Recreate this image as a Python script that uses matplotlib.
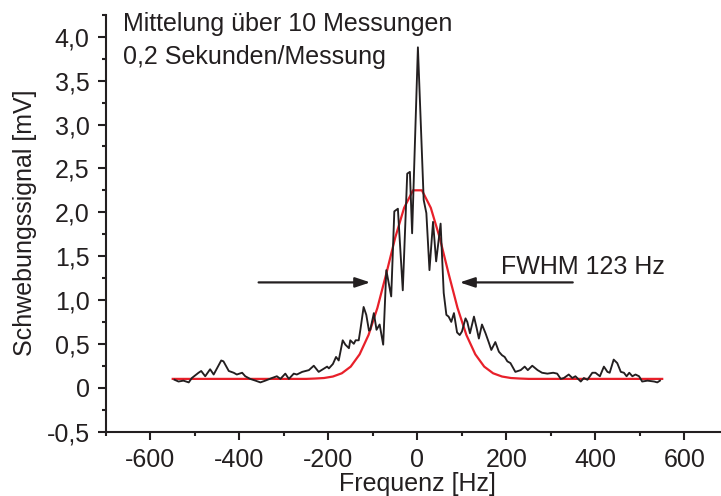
from matplotlib import pyplot as plt
from matplotlib.ticker import MultipleLocator

freq_hz = [
    -546, -537, -526, -514, -507, -492, -486, -477, -466, -458,
    -441, -436, -424, -413, -406, -394, -387, -376, -364, -353,
    -342, -327, -316, -308, -297, -289, -278, -271, -259, -244,
    -233, -222, -203, -199, -190, -183, -177, -168, -162, -154,
    -151, -143, -139, -132, -128, -121, -115, -109, -106, -98,
    -92, -85, -77, -70, -59, -52, -44, -33, -23, -17,
    -12, 1, 14, 20, 27, 35, 42, 52, 59, 65,
    70, 76, 82, 89, 95, 100, 108, 112, 118, 127,
    133, 138, 145, 153, 160, 166, 175, 183, 190, 196,
    202, 209, 220, 232, 241, 248, 258, 270, 280, 292,
    305, 314, 322, 329, 340, 348, 355, 367, 374, 382,
    393, 400, 410, 419, 427, 432, 441, 449, 457, 464,
    470, 476, 483, 490, 498, 505, 517, 532, 539, 545,
]
signal_mv = [
    0.09, 0.07, 0.08, 0.06, 0.11, 0.17, 0.19, 0.13, 0.21, 0.15,
    0.31, 0.30, 0.19, 0.17, 0.15, 0.17, 0.13, 0.10, 0.08, 0.06,
    0.08, 0.11, 0.13, 0.10, 0.16, 0.10, 0.16, 0.15, 0.18, 0.20,
    0.25, 0.18, 0.24, 0.22, 0.27, 0.35, 0.31, 0.54, 0.49, 0.45,
    0.54, 0.50, 0.54, 0.54, 0.67, 0.92, 0.83, 0.65, 0.66, 0.85,
    0.66, 0.72, 0.49, 1.34, 1.04, 2.01, 2.04, 1.11, 2.44, 2.46,
    1.76, 3.88, 2.14, 1.99, 1.34, 1.89, 1.44, 1.87, 1.08, 0.83,
    0.81, 0.75, 0.85, 0.63, 0.60, 0.64, 0.79, 0.75, 0.62, 0.81,
    0.68, 0.56, 0.72, 0.62, 0.52, 0.43, 0.52, 0.41, 0.37, 0.35,
    0.30, 0.28, 0.18, 0.20, 0.24, 0.20, 0.25, 0.20, 0.17, 0.16,
    0.17, 0.16, 0.10, 0.11, 0.15, 0.11, 0.13, 0.07, 0.11, 0.09,
    0.17, 0.17, 0.13, 0.24, 0.18, 0.17, 0.32, 0.28, 0.18, 0.17,
    0.13, 0.17, 0.13, 0.15, 0.13, 0.07, 0.08, 0.07, 0.06, 0.08,
]

# gaussian fit curve
fit_freq_hz = [
    -550, -250, -230, -210, -190, -170, -150, -130, -110, -90,
    -70, -50, -30, -10, 10, 30, 50, 70, 90, 110,
    130, 150, 170, 190, 210, 230, 250, 550,
]
fit_mv = [
    0.10, 0.10, 0.104, 0.11, 0.127, 0.164, 0.24, 0.38, 0.60, 0.91,
    1.30, 1.71, 2.05, 2.25, 2.25, 2.05, 1.71, 1.30, 0.91, 0.60,
    0.38, 0.24, 0.164, 0.127, 0.11, 0.104, 0.10, 0.10,
]

y_ticks = [-0.5, 0, 0.5, 1.0, 1.5, 2.0, 2.5, 3.0, 3.5, 4.0]
y_tick_labels = ["-0,5", "0", "0,5", "1,0", "1,5", "2,0", "2,5", "3,0", "3,5", "4,0"]
x_ticks = [-600, -400, -200, 0, 200, 400, 600]

plt.rcParams["font.family"] = ["Liberation Sans", "DejaVu Sans"]

ink = "#231f20"
fs = 18

fig = plt.figure(figsize=(7.21, 4.96), dpi=100)
ax = fig.add_axes([0.147, 0.130, 0.864, 0.840])

ax.plot(fit_freq_hz, fit_mv, color="#e8202a", linewidth=1.6, zorder=2)
ax.plot(freq_hz, signal_mv, color=ink, linewidth=1.35, zorder=3)

# FWHM arrows
arrow = dict(arrowstyle="-|>,head_length=0.9,head_width=0.3", color=ink,
             linewidth=1.6, shrinkA=0, shrinkB=0)
ax.annotate("", xy=(-106, 1.2), xytext=(-357, 1.2), arrowprops=arrow)
ax.annotate("", xy=(95, 1.2), xytext=(349, 1.2), arrowprops=arrow)
ax.text(187, 1.37, "FWHM 123 Hz", fontsize=fs, color=ink, va="center", ha="left")

ax.text(-661, 4.15, "Mittelung über 10 Messungen", fontsize=fs, color=ink, va="center")
ax.text(-661, 3.77, "0,2 Sekunden/Messung", fontsize=fs, color=ink, va="center")

ax.set_xlim(-700, 700)
ax.set_ylim(-0.5, 4.25)

ax.set_xticks(x_ticks)
ax.set_xticklabels([str(t) for t in x_ticks])
ax.xaxis.set_minor_locator(MultipleLocator(100))
ax.set_yticks(y_ticks)
ax.set_yticklabels(y_tick_labels)
ax.yaxis.set_minor_locator(MultipleLocator(0.25))

for side in ["top", "right"]:
    ax.spines[side].set_visible(False)
for side in ["left", "bottom"]:
    ax.spines[side].set_linewidth(1.5)
    ax.spines[side].set_color(ink)

ax.tick_params(which="major", direction="out", length=5.8, width=1.5,
               color=ink, labelsize=fs, labelcolor=ink, pad=6)
ax.tick_params(which="minor", direction="out", length=3.2, width=1.5, color=ink)

ax.set_xlabel("Frequenz [Hz]", fontsize=fs, color=ink, labelpad=0)
ax.set_ylabel("Schwebungssignal [mV]", fontsize=fs, color=ink, labelpad=7)

fig.savefig("out.png", dpi=100)
